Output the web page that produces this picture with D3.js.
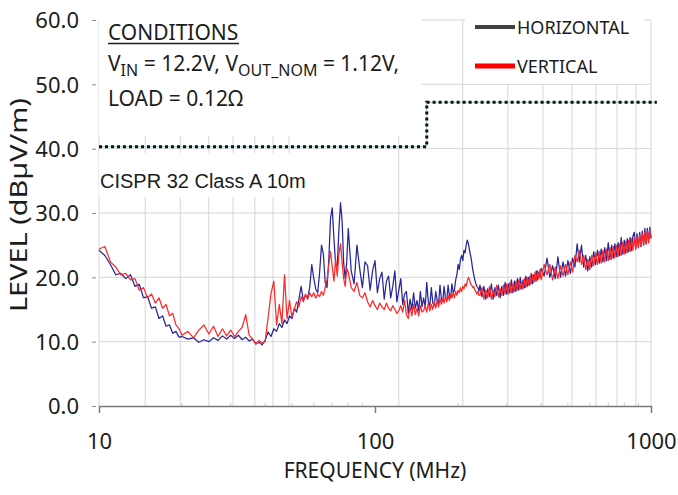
<!DOCTYPE html>
<html>
<head>
<meta charset="utf-8">
<script src="https://cdn.jsdelivr.net/npm/d3@7"></script>
<style>
  body { margin: 0; background: #fff; }
  text { font-family: "Noto Sans", sans-serif; fill: #1c1c1c; }
</style>
</head>
<body>
<div id="chart"></div>
<script>
// sweep frequencies (MHz)
const freq = [
  10,10.5,11,11.5,12,12.5,13,13.5,14,14.5,15,15.5,16,16.5,17,17.5,18,18.5,19,19.5,
  20,21,22,23,24,25,26,27,28,29,30,31,32,33,34,35,36,37,38,39,
  40,41,42,43,44,45,46,47,48,49,50,51,52,53,54,55,56,57,58,59,
  60,61,62,63,64,65,66,67,68,69,70,71,72,73,74,75,76,77,78,79,
  80,82,84,86,88,90,92,94,96,98,100,102,104,106,108,110,112,114,116,118,
  120,122,124,126,128,130,132,134,136,138,140,142,144,146,148,
  150,152,154,156,158,160,162,164,166,168,170,172,174,176,178,180,182,184,186,188,
  190,192,194,196,198,200,202,204,206,208,210,212,214,216,218,220,222,224,226,228,
  230,232,234,236,238,
  240,244,248,252,256,260,264,268,272,276,280,284,288,292,296,300,304,308,312,316,
  320,324,328,332,336,340,344,348,352,356,360,364,368,372,376,380,384,388,392,396,
  400,410,420,430,440,450,460,470,480,490,500,510,520,530,540,550,560,570,580,590,
  600,610,620,630,640,650,660,670,680,690,700,710,720,730,740,750,760,770,780,790,
  800,810,820,830,840,850,860,870,880,890,900,910,920,930,940,950,960,970,980,990,1000
];

// HORIZONTAL level (dBuV/m)
const horizontal = [
  24.2,23.4,22.0,20.4,20.6,19.8,20.4,18.6,18.9,16.8,17.0,15.2,15.4,13.6,14.0,12.4,12.6,11.3,11.6,10.7,
  10.8,10.4,10.6,9.9,10.3,10.0,10.6,10.2,10.9,10.4,11.0,10.5,11.0,10.3,10.7,10.1,10.4,9.7,9.9,9.5,
  10.2,11.5,10.8,12.0,11.6,12.8,12.2,13.4,12.8,14.0,13.6,15.2,14.6,16.6,18.6,16.4,17.2,16.8,18.4,22.0,
  19.8,18.2,17.6,20.8,25.0,23.6,19.2,18.4,22.6,29.2,30.8,26.0,22.0,21.8,27.4,31.6,28.8,22.2,19.8,22.4,
  27.6,21.0,19.0,25.0,21.4,18.4,22.4,21.8,18.0,21.0,22.6,17.6,19.8,20.8,16.6,19.4,20.2,16.8,18.6,21.0,
  16.2,18.0,19.8,15.8,17.4,17.8,14.4,16.6,15.0,17.6,15.2,16.4,14.8,17.8,15.4,
  16.8,15.4,19.2,16.2,15.6,18.4,16.0,15.6,17.8,16.4,16.0,18.8,16.6,16.2,18.6,16.8,16.4,18.8,17.2,16.8,
  19.0,17.6,18.0,19.6,20.4,22.0,21.2,22.8,23.4,22.6,24.2,23.8,25.0,25.8,25.2,24.2,23.4,22.4,21.2,20.4,
  19.6,19.0,18.6,18.4,17.8,
  18.8,17.0,18.6,16.6,18.2,17.0,19.0,16.6,18.4,17.2,18.8,16.8,18.6,17.2,19.2,17.4,19.0,17.6,19.6,17.6,
  19.4,17.8,19.8,18.0,20.0,18.2,19.6,18.4,20.2,18.6,20.0,18.8,20.6,19.0,20.4,19.4,21.0,19.6,20.8,20.0,
  21.4,20.2,23.0,20.0,21.8,19.8,23.2,20.0,22.4,20.2,22.6,20.6,23.0,21.6,25.2,22.4,25.0,21.6,23.4,21.0,
  23.2,21.6,24.0,22.0,24.2,22.2,24.4,22.4,24.6,22.6,25.4,22.8,25.0,23.0,25.2,23.2,25.4,23.4,26.2,23.6,
  25.8,23.8,26.0,24.0,26.2,24.2,26.4,27.0,24.4,26.8,24.6,27.0,24.8,27.2,25.0,27.6,25.2,27.6,25.4,27.8,26.0
];

// VERTICAL level (dBuV/m)
const vertical = [
  24.4,24.8,22.4,21.6,20.4,20.6,19.6,19.8,18.0,18.4,16.8,17.4,16.0,16.8,15.2,15.8,14.0,14.4,12.6,12.0,
  11.0,11.6,10.6,11.8,12.6,11.2,12.4,10.8,12.0,10.9,11.8,10.8,11.6,12.2,14.2,11.0,10.4,9.6,10.2,9.8,
  10.0,13.8,17.5,19.4,12.6,15.8,12.8,20.4,13.6,16.4,13.8,15.0,16.2,15.4,17.0,16.2,17.4,16.6,17.6,17.0,
  17.6,16.8,17.4,17.0,17.8,17.2,18.4,19.6,22.0,24.0,21.6,19.4,22.8,20.2,23.6,25.2,22.4,19.8,18.6,21.4,
  20.8,18.4,17.8,19.2,17.2,16.8,17.6,16.2,15.4,16.4,15.6,15.0,16.0,15.4,15.0,16.0,15.2,14.8,15.6,15.0,
  14.4,14.8,15.6,14.6,16.4,14.2,13.6,15.4,14.0,15.8,14.2,15.2,14.0,15.6,14.6,
  14.8,15.6,14.6,16.0,14.8,15.8,15.0,16.2,15.2,16.4,15.4,16.6,15.8,16.8,16.0,17.0,16.2,17.2,16.4,17.4,
  16.8,17.6,16.8,17.8,17.2,18.0,17.6,18.4,17.8,18.6,18.2,19.0,18.6,19.4,20.0,19.6,19.0,18.8,18.4,18.6,
  18.0,17.8,17.4,17.8,17.2,
  17.2,18.4,16.6,18.0,16.8,18.6,16.6,18.0,17.0,18.8,17.0,18.2,17.2,18.8,17.4,19.0,17.4,19.2,17.6,19.0,
  17.8,19.4,18.0,19.6,18.2,19.2,18.2,19.8,18.4,20.0,18.8,20.2,19.0,20.4,19.2,20.8,19.4,21.0,19.8,21.2,
  19.6,22.0,20.4,22.0,19.6,21.6,19.8,21.8,20.2,22.0,20.4,22.4,20.8,23.4,22.4,24.2,22.0,23.4,21.2,22.8,
  21.2,23.4,21.8,23.8,22.0,24.0,22.2,24.2,22.4,24.4,22.6,24.6,22.8,24.8,23.0,25.0,23.2,25.2,23.4,25.4,
  23.6,25.6,23.8,25.8,24.0,26.0,24.2,26.2,24.4,26.4,24.6,26.6,24.8,26.8,25.0,27.0,25.2,27.2,25.4,27.4,26.2
];

// CISPR 32 Class A 10m limit
const limitFreq = [10, 154, 154, 1050];
const limitLevel = [40.3, 40.3, 47.2, 47.2];

const levelTicks = [0, 10, 20, 30, 40, 50, 60];
const freqTicks = [10, 100, 1000];
const gridFreq = [10, 14.7, 19.7, 25, 30.6, 36.7, 42.7, 48.8, 122, 208, 303, 406, 517, 632, 753, 882, 1000];
const minorFreq = [20, 30, 40, 50, 60, 70, 80, 90, 200, 300, 400, 500, 600, 700, 800, 900];

const width = 678, height = 495;

const svg = d3.select("#chart")
  .append("svg")
    .attr("width", width)
    .attr("height", height);

const x = d3.scaleLog().domain([10, 1000]).range([99, 651]);
const y = d3.scaleLinear().domain([0, 60]).range([406, 20]);

// gridlines
svg.append("g")
  .selectAll("line")
  .data(levelTicks.filter(d => d > 0))
  .enter().append("line")
    .attr("x1", x(10)).attr("x2", x(1000))
    .attr("y1", d => y(d)).attr("y2", d => y(d))
    .attr("stroke", "#d6d6d6").attr("stroke-width", 1);

svg.append("g")
  .selectAll("line")
  .data(gridFreq)
  .enter().append("line")
    .attr("x1", d => x(d)).attr("x2", d => x(d))
    .attr("y1", y(60)).attr("y2", y(0))
    .attr("stroke", "#d6d6d6").attr("stroke-width", 1);

// minor ticks along the bottom
svg.append("g")
  .selectAll("line")
  .data(minorFreq)
  .enter().append("line")
    .attr("x1", d => x(d)).attr("x2", d => x(d))
    .attr("y1", y(0) - 3).attr("y2", y(0))
    .attr("stroke", "#c8c8c8");

// white text boxes sitting over the grid
svg.append("rect").attr("x", 99).attr("y", 8).attr("width", 322).attr("height", 128).attr("fill", "#fff");
svg.append("rect").attr("x", 99).attr("y", 153).attr("width", 200).attr("height", 44).attr("fill", "#fff");
svg.append("rect").attr("x", 465).attr("y", 8).attr("width", 179).attr("height", 76).attr("fill", "#fff");

// y ticks
const yAxis = svg.append("g")
  .attr("transform", "translate(96,0)")
  .call(d3.axisLeft(y).tickValues(levelTicks).tickSize(4).tickPadding(13).tickFormat(d3.format(".1f")));
yAxis.select(".domain").remove();
yAxis.selectAll(".tick line").attr("stroke", "#8a8a8a");
yAxis.selectAll("text").style("font-size", "22px").attr("dy", "0.36em");

// x axis
const xAxis = svg.append("g")
  .attr("transform", `translate(0,${y(0)})`)
  .call(d3.axisBottom(x).tickValues(freqTicks).tickSize(7).tickSizeOuter(0).tickFormat(d => d));
xAxis.select(".domain").attr("stroke", "#7a7a7a").attr("stroke-width", 1.5);
xAxis.selectAll(".tick line").attr("stroke", "#7a7a7a").attr("stroke-width", 1.5);
xAxis.selectAll("text").style("font-size", "22px").attr("y", 43).attr("dy", 0);

// limit line
const limitData = limitFreq.map((f, i) => [f, limitLevel[i]]);
const line = d3.line().x(d => x(d[0])).y(d => y(d[1]));

svg.append("path")
  .datum(limitData)
  .attr("d", line)
  .attr("fill", "none")
  .attr("stroke", "#5fa8a8")
  .attr("stroke-opacity", 0.6)
  .attr("stroke-width", 1);
svg.append("path")
  .datum(limitData)
  .attr("d", line)
  .attr("fill", "none")
  .attr("stroke", "#111")
  .attr("stroke-width", 3)
  .attr("stroke-dasharray", "3,3");

// traces
svg.append("path")
  .datum(freq.map((f, i) => [f, horizontal[i]]))
  .attr("d", line)
  .attr("fill", "none")
  .attr("stroke", "#26269a")
  .attr("stroke-width", 1.25)
  .attr("stroke-linejoin", "round");

svg.append("path")
  .datum(freq.map((f, i) => [f, vertical[i]]))
  .attr("d", line)
  .attr("fill", "none")
  .attr("stroke", "#ff2828")
  .attr("stroke-width", 1.25)
  .attr("stroke-linejoin", "round");

// conditions text
const cond = svg.append("g").style("font-size", "21px");
cond.append("text").attr("x", 108).attr("y", 40).text("CONDITIONS");
cond.append("line")
  .attr("x1", 108).attr("x2", 239).attr("y1", 43.5).attr("y2", 43.5)
  .attr("stroke", "#1c1c1c").attr("stroke-width", 1.5);

const vin = cond.append("text").attr("x", 108).attr("y", 71);
vin.append("tspan").text("V");
vin.append("tspan").attr("dy", 5).style("font-size", "16px").text("IN");
vin.append("tspan").attr("dy", -5).text(" = 12.2V, V");
vin.append("tspan").attr("dy", 5).style("font-size", "16px").text("OUT_NOM");
vin.append("tspan").attr("dy", -5).text(" = 1.12V,");

cond.append("text").attr("x", 108).attr("y", 106).text("LOAD = 0.12Ω");

svg.append("text")
  .attr("x", 100).attr("y", 188)
  .style("font-family", "'Liberation Sans', Arial, sans-serif")
  .style("font-size", "20px")
  .text("CISPR 32 Class A 10m");

// legend
const legendItems = [
  { name: "HORIZONTAL", color: "#404040", w: 4 },
  { name: "VERTICAL", color: "#ff0000", w: 5 }
];
const legend = svg.selectAll(".legend")
  .data(legendItems)
  .enter().append("g")
    .attr("class", "legend")
    .attr("transform", (d, i) => `translate(475, ${27 + i * 39})`);
legend.append("line")
  .attr("x1", 0).attr("x2", 40)
  .attr("stroke", d => d.color)
  .attr("stroke-width", d => d.w);
legend.append("text")
  .attr("x", 42).attr("y", 7)
  .style("font-size", "18px")
  .text(d => d.name);

// axis titles
svg.append("text")
  .attr("x", 375).attr("y", 478)
  .attr("text-anchor", "middle")
  .style("font-size", "21px")
  .text("FREQUENCY (MHz)");

svg.append("text")
  .attr("transform", "translate(27,205) rotate(-90)")
  .attr("text-anchor", "middle")
  .attr("textLength", 214)
  .attr("lengthAdjust", "spacingAndGlyphs")
  .style("font-size", "24px")
  .text("LEVEL  (dBµV/m)");
</script>
</body>
</html>
